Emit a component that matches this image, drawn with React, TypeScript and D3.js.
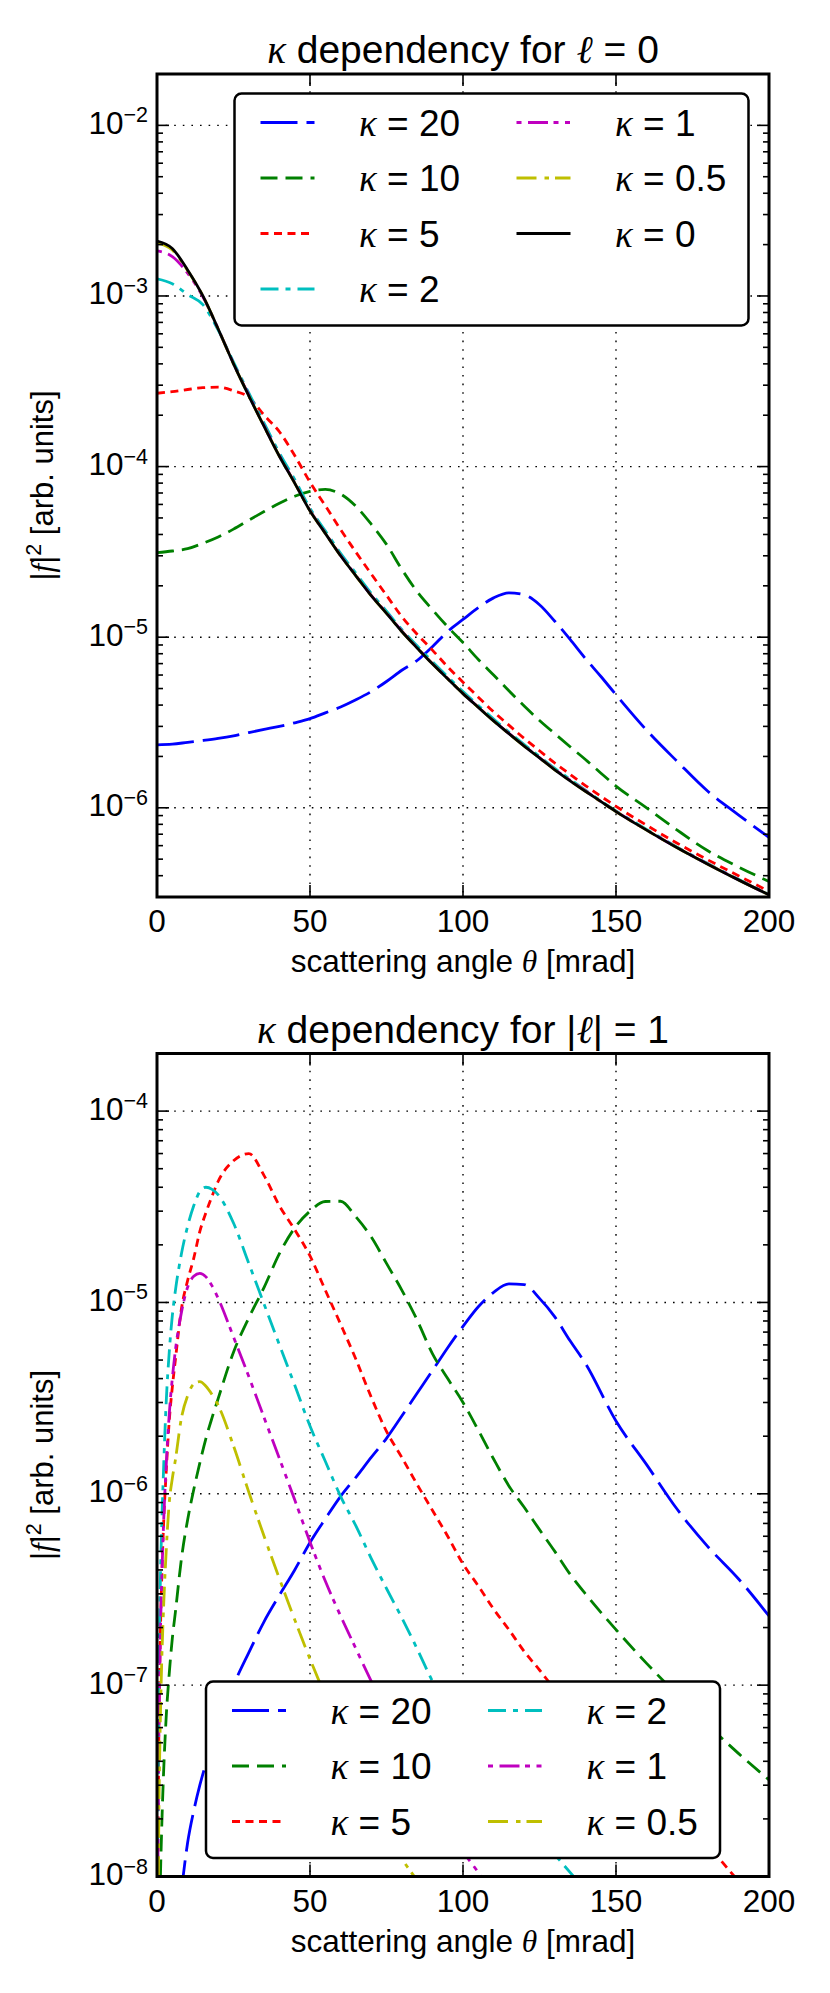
import React from "react";
import * as d3 from "d3";

// scattering angle grid (mrad) for the l = 0 panel
const thetaTop = [0, 5, 10, 15, 20, 25, 30, 35, 40, 45, 50, 55, 60, 65, 70, 75, 80, 85, 90, 95, 100, 105, 110, 115, 120, 125, 130, 135, 140, 145, 150, 160, 170, 180, 190, 200];

const topK20 = [2.34e-6, 2.36e-6, 2.42e-6, 2.48e-6, 2.55e-6, 2.64e-6, 2.76e-6, 2.88e-6, 3.0e-6, 3.15e-6, 3.33e-6, 3.6e-6, 3.9e-6, 4.3e-6, 4.8e-6, 5.5e-6, 6.4e-6, 7.3e-6, 8.8e-6, 1.08e-5, 1.27e-5, 1.49e-5, 1.7e-5, 1.82e-5, 1.77e-5, 1.55e-5, 1.24e-5, 9.7e-6, 7.5e-6, 5.9e-6, 4.6e-6, 2.85e-6, 1.87e-6, 1.25e-6, 9.1e-7, 6.7e-7];
const topK10 = [3.13e-5, 3.2e-5, 3.3e-5, 3.55e-5, 3.87e-5, 4.3e-5, 4.85e-5, 5.45e-5, 6.1e-5, 6.7e-5, 7.15e-5, 7.35e-5, 6.9e-5, 5.85e-5, 4.6e-5, 3.5e-5, 2.5e-5, 1.85e-5, 1.45e-5, 1.15e-5, 9.3e-6, 7.4e-6, 6.0e-6, 4.85e-6, 3.95e-6, 3.25e-6, 2.72e-6, 2.28e-6, 1.92e-6, 1.6e-6, 1.34e-6, 1.0e-6, 7.4e-7, 5.6e-7, 4.5e-7, 3.7e-7];
const topK5 = [2.69e-4, 2.75e-4, 2.83e-4, 2.9e-4, 2.92e-4, 2.78e-4, 2.55e-4, 2.0e-4, 1.6e-4, 1.16e-4, 8.1e-5, 5.9e-5, 4.27e-5, 3.15e-5, 2.35e-5, 1.76e-5, 1.32e-5, 1.04e-5, 8.4e-6, 6.7e-6, 5.45e-6, 4.45e-6, 3.65e-6, 3.05e-6, 2.55e-6, 2.16e-6, 1.83e-6, 1.57e-6, 1.35e-6, 1.17e-6, 1.02e-6, 7.9e-7, 6.2e-7, 4.95e-7, 4.0e-7, 3.24e-7];
const topK2 = [1.26e-3, 1.18e-3, 1.02e-3, 8.9e-4, 6.3e-4, 4.1e-4, 2.7e-4, 1.8e-4, 1.2e-4, 8.4e-5, 5.7e-5, 4.2e-5, 3.1e-5, 2.37e-5, 1.81e-5, 1.42e-5, 1.11e-5, 8.9e-6, 7.18e-6, 5.86e-6, 4.8e-6, 3.98e-6, 3.31e-6, 2.78e-6, 2.35e-6, 2.0e-6, 1.7e-6, 1.47e-6, 1.27e-6, 1.1e-6, 9.6e-7, 7.47e-7, 5.88e-7, 4.71e-7, 3.81e-7, 3.11e-7];
const topK1 = [1.84e-3, 1.7e-3, 1.36e-3, 9.9e-4, 6.4e-4, 4.02e-4, 2.62e-4, 1.73e-4, 1.16e-4, 8.05e-5, 5.53e-5, 4.08e-5, 3.01e-5, 2.3e-5, 1.76e-5, 1.39e-5, 1.09e-5, 8.68e-6, 7.0e-6, 5.72e-6, 4.68e-6, 3.89e-6, 3.24e-6, 2.73e-6, 2.31e-6, 1.97e-6, 1.68e-6, 1.45e-6, 1.26e-6, 1.09e-6, 9.52e-7, 7.41e-7, 5.84e-7, 4.68e-7, 3.79e-7, 3.09e-7];
const topK05 = [2.05e-3, 1.86e-3, 1.41e-3, 1.0e-3, 6.4e-4, 4.0e-4, 2.6e-4, 1.72e-4, 1.15e-4, 8.0e-5, 5.5e-5, 4.06e-5, 3.0e-5, 2.29e-5, 1.75e-5, 1.38e-5, 1.08e-5, 8.65e-6, 6.98e-6, 5.7e-6, 4.67e-6, 3.88e-6, 3.23e-6, 2.72e-6, 2.3e-6, 1.96e-6, 1.67e-6, 1.44e-6, 1.25e-6, 1.09e-6, 9.5e-7, 7.4e-7, 5.83e-7, 4.67e-7, 3.78e-7, 3.09e-7];
const topK0 = [2.1e-3, 1.9e-3, 1.42e-3, 1.0e-3, 6.4e-4, 4.0e-4, 2.6e-4, 1.72e-4, 1.15e-4, 8.0e-5, 5.5e-5, 4.06e-5, 3.0e-5, 2.29e-5, 1.75e-5, 1.38e-5, 1.08e-5, 8.65e-6, 6.98e-6, 5.7e-6, 4.67e-6, 3.88e-6, 3.23e-6, 2.72e-6, 2.3e-6, 1.96e-6, 1.67e-6, 1.44e-6, 1.25e-6, 1.09e-6, 9.5e-7, 7.4e-7, 5.83e-7, 4.67e-7, 3.78e-7, 3.09e-7];

// grid for the |l| = 1 panel (null = far below the axis)
const thetaBottom = [0.2, 0.6, 1, 1.5, 2, 3, 4, 5, 6, 8, 10, 12, 14, 16, 18, 20, 25, 30, 35, 40, 45, 50, 55, 60, 65, 70, 75, 80, 85, 90, 95, 100, 105, 110, 115, 120, 125, 130, 135, 140, 150, 160, 170, 180, 190, 200];

const botK20 = [null, null, null, null, null, null, null, null, 4.5e-9, 8.5e-9, 1.5e-8, 2.2e-8, 3.0e-8, 3.9e-8, 5.0e-8, 6.2e-8, 1.0e-7, 1.48e-7, 2.15e-7, 2.95e-7, 4.0e-7, 5.57e-7, 7.4e-7, 9.7e-7, 1.22e-6, 1.55e-6, 1.95e-6, 2.55e-6, 3.35e-6, 4.4e-6, 5.8e-6, 7.5e-6, 9.5e-6, 1.13e-5, 1.25e-5, 1.24e-5, 1.05e-5, 8.4e-6, 6.3e-6, 4.8e-6, 2.4e-6, 1.42e-6, 8.3e-7, 5.3e-7, 3.6e-7, 2.3e-7];
const botK10 = [null, 3e-9, 8e-9, 1.7e-8, 3.0e-8, 6.8e-8, 1.15e-7, 1.75e-7, 2.4e-7, 4.6e-7, 7.3e-7, 1.05e-6, 1.45e-6, 1.95e-6, 2.5e-6, 3.15e-6, 5.5e-6, 8.3e-6, 1.2e-5, 1.8e-5, 2.45e-5, 3.0e-5, 3.37e-5, 3.38e-5, 2.8e-5, 2.2e-5, 1.6e-5, 1.16e-5, 8.1e-6, 5.4e-6, 4.0e-6, 3.0e-6, 2.15e-6, 1.52e-6, 1.1e-6, 8.5e-7, 6.5e-7, 5.0e-7, 3.8e-7, 3.0e-7, 1.95e-7, 1.3e-7, 8.9e-8, 6.2e-8, 4.4e-8, 3.2e-8];
const botK5 = [6e-9, 5.5e-8, 1.5e-7, 3.4e-7, 6.0e-7, 1.3e-6, 2.4e-6, 3.6e-6, 5.0e-6, 9.3e-6, 1.3e-5, 1.7e-5, 2.35e-5, 2.95e-5, 3.6e-5, 4.3e-5, 5.5e-5, 6.0e-5, 4.6e-5, 3.2e-5, 2.4e-5, 1.75e-5, 1.16e-5, 7.7e-6, 5.05e-6, 3.2e-6, 2.12e-6, 1.55e-6, 1.12e-6, 8.2e-7, 6.0e-7, 4.3e-7, 3.3e-7, 2.5e-7, 1.95e-7, 1.5e-7, 1.2e-7, 9.5e-8, 7.7e-8, 6.3e-8, 4.3e-8, 3.0e-8, 2.1e-8, 1.45e-8, 9.5e-9, 6.5e-9];
const botK2 = [9e-9, 1.0e-7, 2.9e-7, 6.5e-7, 1.15e-6, 3.0e-6, 5.5e-6, 8.5e-6, 1.15e-5, 1.8e-5, 2.5e-5, 3.2e-5, 3.8e-5, 4.0e-5, 3.9e-5, 3.65e-5, 2.6e-5, 1.6e-5, 9.8e-6, 6.0e-6, 3.7e-6, 2.26e-6, 1.48e-6, 9.7e-7, 6.8e-7, 4.6e-7, 3.2e-7, 2.25e-7, 1.55e-7, 1.05e-7, 7.6e-8, 5.6e-8, 4.3e-8, 3.3e-8, 2.6e-8, 2.0e-8, 1.6e-8, 1.3e-8, 1.05e-8, 8.5e-9, null, null, null, null, null, null];
const botK1 = [6e-9, 5.3e-8, 1.5e-7, 3.3e-7, 6.0e-7, 1.4e-6, 2.6e-6, 4.0e-6, 5.6e-6, 8.9e-6, 1.2e-5, 1.37e-5, 1.42e-5, 1.36e-5, 1.22e-5, 1.05e-5, 6.6e-6, 4.1e-6, 2.5e-6, 1.53e-6, 9.3e-7, 5.6e-7, 3.5e-7, 2.3e-7, 1.55e-7, 1.05e-7, 7.2e-8, 5.0e-8, 3.5e-8, 2.5e-8, 1.8e-8, 1.35e-8, 1.05e-8, 8e-9, null, null, null, null, null, null, null, null, null, null, null, null];
const botK05 = [2.5e-9, 2.0e-8, 5.5e-8, 1.25e-7, 2.2e-7, 5.0e-7, 9.0e-7, 1.2e-6, 1.5e-6, 2.5e-6, 3.25e-6, 3.75e-6, 3.86e-6, 3.65e-6, 3.3e-6, 2.9e-6, 1.78e-6, 1.02e-6, 6.0e-7, 3.6e-7, 2.2e-7, 1.37e-7, 8.8e-8, 5.8e-8, 4.0e-8, 2.7e-8, 1.85e-8, 1.25e-8, 9.5e-9, 7e-9, null, null, null, null, null, null, null, null, null, null, null, null, null, null, null, null];

const topKappas = ["20", "10", "5", "2", "1", "0.5", "0"];
const bottomKappas = ["20", "10", "5", "2", "1", "0.5"];
const xTickValues = [0, 50, 100, 150, 200];

const STYLE: Record<string, {color: string; dash: string}> = {
	"20": {color: "#0000ff", dash: "37 9"},
	"10": {color: "#008000", dash: "17 8"},
	"5": {color: "#ff0000", dash: "8 5.5"},
	"2": {color: "#00bfbf", dash: "18 7 5 7"},
	"1": {color: "#bf00bf", dash: "5 6.5 20 5.5 5 6.5"},
	"0.5": {color: "#bfbf00", dash: "20 8 4.5 6"},
	"0": {color: "#000000", dash: "none"},
};

const W = 830;
const H = 1993;
const LEFT = 157;
const RIGHT = 769;
const PLOT_H = 823;
const SANS = "'Liberation Sans', Arial, Helvetica, sans-serif";
const MATH = "'Liberation Serif', 'DejaVu Serif', serif";

type Pt = [number, number | null];

interface PanelProps {
	id: string;
	top: number;
	thetas: number[];
	values: Record<string, (number | null)[]>;
	kappas: string[];
	yDomain: [number, number];
	title: React.ReactNode;
	legendCols: string[][];
	legendLoc: "upper right" | "lower center";
}

const Mi: React.FC<{children: React.ReactNode}> = ({children}) => (
	<tspan fontFamily={MATH} fontStyle="italic">{children}</tspan>
);

const Panel: React.FC<PanelProps> = ({id, top, thetas, values, kappas, yDomain, title, legendCols, legendLoc}) => {
	const bottom = top + PLOT_H;
	const x = d3.scaleLinear().domain([0, 200]).range([LEFT, RIGHT]);
	const y = d3.scaleLog().domain(yDomain).range([bottom, top]);

	const allTicks = y.ticks();
	const isMajor = (t: number) => Math.abs(Math.log10(t) - Math.round(Math.log10(t))) < 1e-6;
	const majors = allTicks.filter(isMajor);
	const minors = allTicks.filter((t) => !isMajor(t));

	const line = d3
		.line<Pt>()
		.defined((d) => d[1] != null)
		.x((d) => x(d[0]))
		.y((d) => y(d[1] as number))
		.curve(d3.curveMonotoneX);

	// legend geometry
	const rows = Math.max(...legendCols.map((c) => c.length));
	const boxW = 514;
	const boxH = 29 + (rows - 1) * 55.5 + 36.5;
	const boxLeft = legendLoc === "upper right" ? RIGHT - 20.5 - boxW : (LEFT + RIGHT) / 2 - boxW / 2;
	const boxTop = legendLoc === "upper right" ? top + 19.5 : bottom - 18.5 - boxH;

	return (
		<g>
			<defs>
				<clipPath id={`clip-${id}`}>
					<rect x={LEFT} y={top} width={RIGHT - LEFT} height={PLOT_H} />
				</clipPath>
			</defs>

			{/* grid */}
			<g stroke="#000" strokeWidth={1.4} strokeDasharray="1.6 7">
				{xTickValues.map((t) => (
					<line key={`gx${t}`} x1={x(t)} x2={x(t)} y1={top} y2={bottom} />
				))}
				{majors.map((t) => (
					<line key={`gy${t}`} x1={LEFT} x2={RIGHT} y1={y(t)} y2={y(t)} />
				))}
			</g>

			{/* curves */}
			<g clipPath={`url(#clip-${id})`} fill="none" strokeWidth={2.8}>
				{kappas.map((k) => (
					<path
						key={k}
						d={line(thetas.map((t, i) => [t, values[k][i]] as Pt)) || ""}
						stroke={STYLE[k].color}
						strokeDasharray={STYLE[k].dash}
					/>
				))}
			</g>

			{/* ticks */}
			<g stroke="#000" strokeWidth={1.6}>
				{xTickValues.map((t) => (
					<g key={`tx${t}`}>
						<line x1={x(t)} x2={x(t)} y1={bottom} y2={bottom - 12} />
						<line x1={x(t)} x2={x(t)} y1={top} y2={top + 12} />
					</g>
				))}
				{majors.map((t) => (
					<g key={`ty${t}`}>
						<line x1={LEFT} x2={LEFT + 12} y1={y(t)} y2={y(t)} />
						<line x1={RIGHT} x2={RIGHT - 12} y1={y(t)} y2={y(t)} />
					</g>
				))}
				{minors.map((t) => (
					<g key={`tm${t}`}>
						<line x1={LEFT} x2={LEFT + 6} y1={y(t)} y2={y(t)} />
						<line x1={RIGHT} x2={RIGHT - 6} y1={y(t)} y2={y(t)} />
					</g>
				))}
			</g>

			<rect x={LEFT} y={top} width={RIGHT - LEFT} height={PLOT_H} fill="none" stroke="#000" strokeWidth={3} />

			{/* tick labels */}
			<g fontFamily={SANS} fill="#000">
				{majors.map((t) => (
					<text key={`ly${t}`} x={LEFT - 9} y={y(t) + 8.5} textAnchor="end" fontSize={31.5}>
						10
						<tspan dy={-11.5} fontSize={21.5}>{`\u2212${Math.round(-Math.log10(t))}`}</tspan>
					</text>
				))}
				{xTickValues.map((t) => (
					<text key={`lx${t}`} x={x(t)} y={bottom + 35} textAnchor="middle" fontSize={31.5}>
						{t}
					</text>
				))}
				<text x={(LEFT + RIGHT) / 2} y={bottom + 75} textAnchor="middle" fontSize={31.5}>
					scattering angle <Mi>θ</Mi> [mrad]
				</text>
				<text transform={`translate(53, ${(top + bottom) / 2}) rotate(-90)`} textAnchor="middle" fontSize={31}>
					|<Mi>f</Mi>|<tspan dy={-12} fontSize={21.5}>2</tspan>
					<tspan dy={12}> [arb. units]</tspan>
				</text>
				<text x={(LEFT + RIGHT) / 2} y={top - 10.7} textAnchor="middle" fontSize={39}>
					{title}
				</text>
			</g>

			{/* legend */}
			<g>
				<rect x={boxLeft} y={boxTop} width={boxW} height={boxH} rx={7} fill="#fff" stroke="#000" strokeWidth={2.5} />
				{legendCols.map((col, c) =>
					col.map((k, i) => {
						const ry = boxTop + 29 + i * 55.5;
						const hx = boxLeft + 26 + c * 256;
						return (
							<g key={`lg${k}`}>
								<line
									x1={hx}
									x2={hx + 54}
									y1={ry}
									y2={ry}
									stroke={STYLE[k].color}
									strokeWidth={2.8}
									strokeDasharray={STYLE[k].dash}
								/>
								<text x={boxLeft + 124.5 + c * 256} y={ry + 13} fontFamily={SANS} fontSize={37}>
									<Mi>κ</Mi> = {k}
								</text>
							</g>
						);
					})
				)}
			</g>
		</g>
	);
};

const App: React.FC = () => {
	const topValues: Record<string, (number | null)[]> = {
		"20": topK20,
		"10": topK10,
		"5": topK5,
		"2": topK2,
		"1": topK1,
		"0.5": topK05,
		"0": topK0,
	};
	const bottomValues: Record<string, (number | null)[]> = {
		"20": botK20,
		"10": botK10,
		"5": botK5,
		"2": botK2,
		"1": botK1,
		"0.5": botK05,
	};

	return (
		<svg
			width={W}
			height={H}
			viewBox={`0 0 ${W} ${H}`}
			style={{position: "absolute", left: 0, top: 0, display: "block"}}
		>
			<rect width={W} height={H} fill="#fff" />
			<Panel
				id="l0"
				top={74}
				thetas={thetaTop}
				values={topValues}
				kappas={topKappas}
				yDomain={[3e-7, 2e-2]}
				title={
					<>
						<Mi>κ</Mi> dependency for <Mi>ℓ</Mi> = 0
					</>
				}
				legendCols={[topKappas.slice(0, 4), topKappas.slice(4)]}
				legendLoc="upper right"
			/>
			<Panel
				id="l1"
				top={1053.5}
				thetas={thetaBottom}
				values={bottomValues}
				kappas={bottomKappas}
				yDomain={[1e-8, 2e-4]}
				title={
					<>
						<Mi>κ</Mi> dependency for |<Mi>ℓ</Mi>| = 1
					</>
				}
				legendCols={[bottomKappas.slice(0, 3), bottomKappas.slice(3)]}
				legendLoc="lower center"
			/>
		</svg>
	);
};

export default App;
